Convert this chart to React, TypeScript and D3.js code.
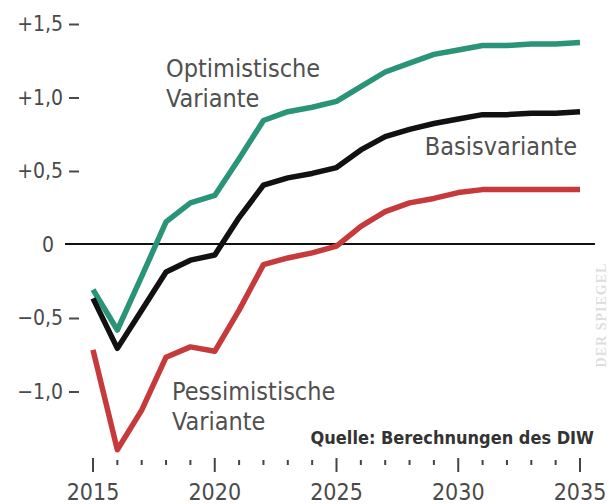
import { useRef, useEffect } from 'react'
import * as d3 from 'd3'

const YEARS = d3.range(2015, 2036)

const OPTIMISTIC = [
  -0.31, -0.585, -0.22, 0.15, 0.28, 0.33, 0.58, 0.84, 0.9, 0.93, 0.97, 1.07, 1.17, 1.23, 1.29, 1.32, 1.35,
  1.35, 1.36, 1.36, 1.37,
]
const BASIS = [
  -0.37, -0.71, -0.45, -0.19, -0.11, -0.075, 0.18, 0.4, 0.45, 0.48, 0.52, 0.64, 0.73, 0.78, 0.82, 0.85, 0.88,
  0.88, 0.89, 0.89, 0.9,
]
const PESSIMISTIC = [
  -0.72, -1.4, -1.13, -0.77, -0.7, -0.73, -0.45, -0.14, -0.095, -0.06, -0.015, 0.12, 0.22, 0.28, 0.31, 0.35,
  0.37, 0.37, 0.37, 0.37, 0.37,
]

const Y_TICKS = [1.5, 1.0, 0.5, -0.5, -1.0]
const X_LABELS = [2015, 2020, 2025, 2030, 2035]

const SERIES = [
  { key: 'pess', values: PESSIMISTIC, color: '#c63a3c' },
  { key: 'opt', values: OPTIMISTIC, color: '#2a9478' },
  { key: 'basis', values: BASIS, color: '#111111' },
]

const FONT = '"Liberation Sans Narrow", "DejaVu Sans Condensed", "Roboto", sans-serif'

const fmt = (v: number) => (v > 0 ? '+' : v < 0 ? '\u2212' : '') + Math.abs(v).toFixed(1).replace('.', ',')

export default function App() {
  const svgRef = useRef<SVGSVGElement>(null)

  useEffect(() => {
    if (!svgRef.current) return
    const svg = d3.select(svgRef.current)
    svg.selectAll('*').remove()

    const x = d3.scaleLinear().domain([2015, 2035]).range([93, 580])
    const y = d3.scaleLinear().domain([0, 1.5]).range([244, 23.5])

    // y labels + dash ticks
    const yg = svg.append('g')
    yg.selectAll('text')
      .data(Y_TICKS)
      .join('text')
      .attr('x', 63)
      .attr('y', (d) => y(d))
      .attr('dy', '0.36em')
      .attr('text-anchor', 'end')
      .attr('font-family', FONT)
      .attr('font-size', 21)
      .attr('fill', '#4a4a4a')
      .text((d) => fmt(d))
    yg.selectAll('line')
      .data(Y_TICKS)
      .join('line')
      .attr('x1', 69)
      .attr('x2', 79)
      .attr('y1', (d) => y(d) + 1)
      .attr('y2', (d) => y(d) + 1)
      .attr('stroke', '#4a4a4a')
      .attr('stroke-width', 2)

    svg
      .append('text')
      .attr('x', 54)
      .attr('y', y(0))
      .attr('dy', '0.36em')
      .attr('text-anchor', 'end')
      .attr('font-family', FONT)
      .attr('font-size', 21)
      .attr('fill', '#4a4a4a')
      .text('0')

    // zero line
    svg
      .append('line')
      .attr('x1', 65)
      .attr('x2', 595)
      .attr('y1', y(0))
      .attr('y2', y(0))
      .attr('stroke', '#111')
      .attr('stroke-width', 2)

    // x ticks
    svg
      .append('g')
      .selectAll('line')
      .data(YEARS)
      .join('line')
      .attr('x1', (d) => x(d))
      .attr('x2', (d) => x(d))
      .attr('y1', (d) => (d % 5 === 0 ? 458 : 460))
      .attr('y2', (d) => (d % 5 === 0 ? 472 : 465))
      .attr('stroke', '#444')
      .attr('stroke-width', 2)

    svg
      .append('g')
      .selectAll('text')
      .data(X_LABELS)
      .join('text')
      .attr('x', (d) => x(d))
      .attr('y', 500)
      .attr('text-anchor', 'middle')
      .attr('font-family', FONT)
      .attr('font-size', 23)
      .attr('fill', '#4a4a4a')
      .text((d) => d)

    const line = d3
      .line<number>()
      .x((_, i) => x(YEARS[i]))
      .y((d) => y(d))
      .curve(d3.curveLinear)

    svg
      .append('g')
      .selectAll('path')
      .data(SERIES)
      .join('path')
      .attr('d', (s) => line(s.values))
      .attr('fill', 'none')
      .attr('stroke', (s) => s.color)
      .attr('stroke-width', 5.5)
      .attr('stroke-linejoin', 'round')

    const label = (lines: string[], lx: number, ly: number, anchor = 'start') => {
      const t = svg
        .append('text')
        .attr('x', lx)
        .attr('y', ly)
        .attr('text-anchor', anchor)
        .attr('font-family', FONT)
        .attr('font-size', 25)
        .attr('fill', '#505050')
      lines.forEach((s, i) => t.append('tspan').attr('x', lx).attr('dy', i === 0 ? 0 : 30).text(s))
    }
    label(['Optimistische', 'Variante'], 166, 77)
    label(['Basisvariante'], 577, 155, 'end')
    label(['Pessimistische', 'Variante'], 172, 400)

    svg
      .append('text')
      .attr('x', 594)
      .attr('y', 444)
      .attr('text-anchor', 'end')
      .attr('font-family', FONT)
      .attr('font-size', 18)
      .attr('font-weight', 700)
      .attr('fill', '#333')
      .text('Quelle: Berechnungen des DIW')

    svg
      .append('text')
      .attr('transform', 'translate(606,315) rotate(-90)')
      .attr('text-anchor', 'middle')
      .attr('font-family', 'Liberation Serif, serif')
      .attr('font-size', 14)
      .attr('font-weight', 700)
      .attr('letter-spacing', 1)
      .attr('fill', '#dedede')
      .text('DER SPIEGEL')
  }, [])

  return (
    <svg
      ref={svgRef}
      width={611}
      height={504}
      style={{ position: 'absolute', left: 0, top: 0, background: '#fff' }}
    />
  )
}
